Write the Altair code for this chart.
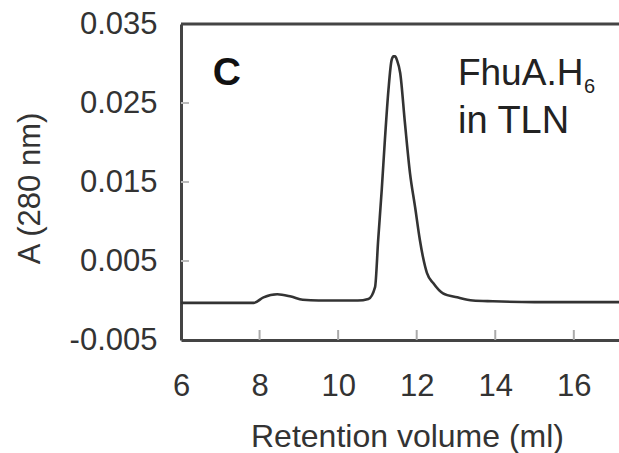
import altair as alt
import pandas as pd

# Chromatogram trace
volume = [6.0, 7.0, 7.85, 8.1, 8.45, 8.8, 9.1, 9.5, 10.0, 10.5, 10.77, 10.94,
          11.02, 11.11, 11.19, 11.28, 11.36, 11.41, 11.45, 11.50, 11.58, 11.70,
          11.83, 11.96, 12.08, 12.16, 12.26, 12.42, 12.67, 13.03, 13.43, 13.94,
          15.0, 16.0, 17.15]
absorbance = [-0.0003, -0.0003, -0.0003, 0.0004, 0.0008, 0.0005, 0.0001, 0.0,
              0.0, 0.0, 0.0002, 0.0017, 0.0077, 0.0140, 0.0203, 0.0266, 0.0304,
              0.0309, 0.0309, 0.0304, 0.0288, 0.0225, 0.0161, 0.0118, 0.0077,
              0.0055, 0.0035, 0.0022, 0.0009, 0.0004, 0.0000, -0.0001, -0.0002,
              -0.0002, -0.0002]

y_tick_labels = [-0.005, 0.005, 0.015, 0.025, 0.035]
x_tick_labels = [6, 8, 10, 12, 14, 16]
inner_y_ticks = [0.005, 0.015, 0.025]
inner_x_ticks = [8, 10, 12, 14, 16]

ann_text = ["C", "FhuA.H", "6", "in TLN"]
ann_x = [6.81, 13.05, 16.26, 13.05]
ann_y = [0.0273, 0.0273, 0.0263, 0.0212]
ann_size = [39, 37, 20, 38]
ann_weight = ["bold", "normal", "normal", "normal"]

X_DOMAIN = [6, 17.15]
Y_DOMAIN = [-0.005, 0.035]
W, H = 438, 316
FONT = "Liberation Sans"

xs = alt.Scale(domain=X_DOMAIN, nice=False, zero=False)
ys = alt.Scale(domain=Y_DOMAIN, nice=False, zero=False)

trace = pd.DataFrame({"v": volume, "a": absorbance})

line = alt.Chart(trace).mark_line(color="#333333", strokeWidth=2.6,
                                  interpolate="monotone").encode(
    x=alt.X("v:Q", scale=xs, axis=alt.Axis(
        values=x_tick_labels, format="d", title="Retention volume (ml)",
        grid=False, ticks=False, domainColor="#444444", domainWidth=3,
        labelFont=FONT, labelFontSize=31, labelColor="#333333",
        labelBaseline="middle", labelPadding=46, labelFlush=False,
        titleFont=FONT, titleFontSize=32, titleFontWeight="normal",
        titleColor="#333333", titleX=226, titleY=96, titleBaseline="middle",
        titleAlign="center")),
    y=alt.Y("a:Q", scale=ys, axis=alt.Axis(
        values=y_tick_labels, format=".3f", title="A (280 nm)",
        labelExpr="replace(datum.label, '\u2212', '-')",
        grid=False, ticks=False, domainColor="#444444", domainWidth=3,
        labelFont=FONT, labelFontSize=31, labelColor="#333333",
        labelPadding=24, labelFlush=False, labelBaseline="middle",
        titleFont=FONT, titleFontSize=31, titleFontWeight="normal",
        titleColor="#333333", titleX=-151, titleY=164, titleBaseline="middle",
        titleAlign="center", titleAngle=270)),
)

ytick_df = pd.DataFrame({"t": inner_y_ticks})
ytick = alt.Chart(ytick_df).mark_rule(color="#bbbbbb", strokeWidth=2).encode(
    y=alt.Y("t:Q", scale=ys),
    x=alt.value(0), x2=alt.value(8))

xtick_df = pd.DataFrame({"t": inner_x_ticks})
xtick = alt.Chart(xtick_df).mark_rule(color="#aaaaaa", strokeWidth=2).encode(
    x=alt.X("t:Q", scale=xs),
    y=alt.value(H - 10), y2=alt.value(H))

top = alt.Chart(pd.DataFrame({"k": [0]})).mark_rule(color="#444444", strokeWidth=3).encode(
    y=alt.value(0), x=alt.value(0), x2=alt.value(W))

ann = pd.DataFrame({"text": ann_text, "x": ann_x, "y": ann_y,
                    "size": ann_size, "weight": ann_weight})
texts = []
for i in range(len(ann)):
    texts.append(
        alt.Chart(ann.iloc[[i]]).mark_text(
            font=FONT, fontSize=int(ann_size[i]), fontWeight=ann_weight[i],
            align="left", baseline="alphabetic",
            color="#111111" if ann_weight[i] == "bold" else "#222222"
        ).encode(
            x=alt.X("x:Q", scale=xs),
            y=alt.Y("y:Q", scale=ys),
            text="text:N")
    )

chart = alt.layer(line, ytick, xtick, top, *texts).properties(
    width=W, height=H,
    autosize=alt.AutoSizeParams(type="none"),
    padding={"left": 181, "top": 24, "right": 0, "bottom": 113},
    background="white",
).configure_view(stroke=None)

chart.save("out.html", embed_options={"renderer": "svg", "actions": False})
